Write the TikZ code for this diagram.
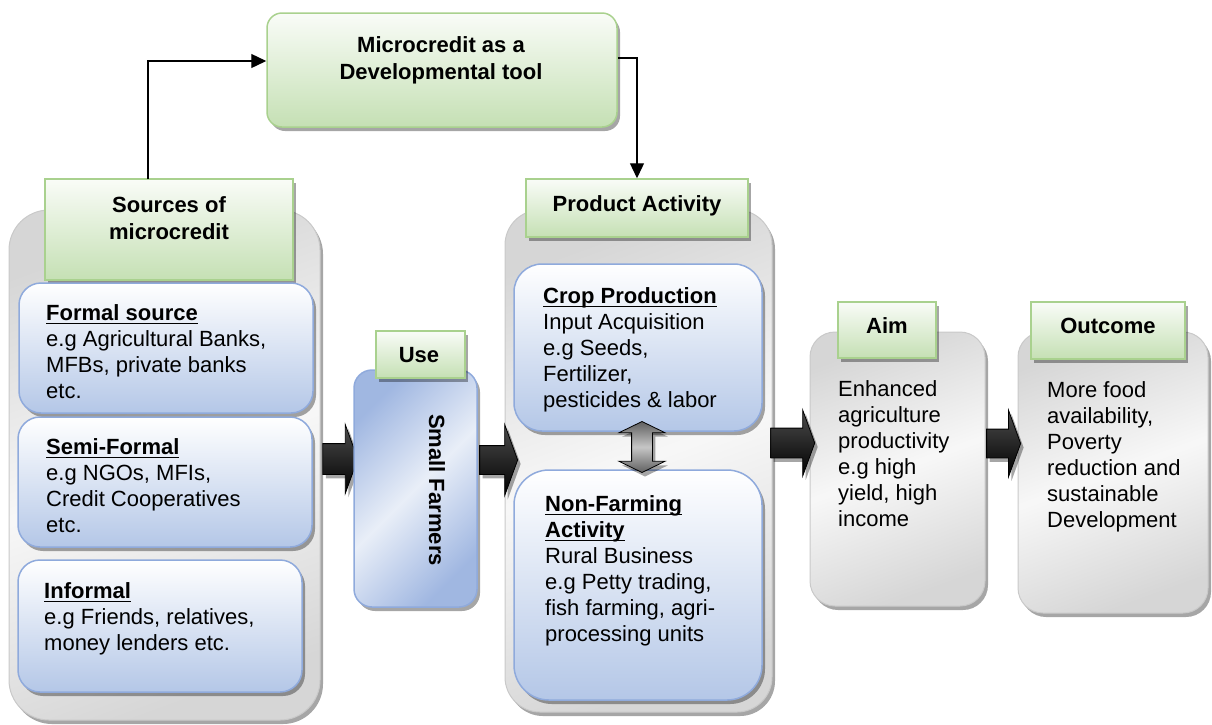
\documentclass[tikz,border=0pt]{standalone}
\usepackage{fontspec}
\setmainfont{Liberation Sans}
\usetikzlibrary{shapes.arrows,shadows,fit,calc,arrows.meta}

% bold heading with a rule drawn under it
\newsavebox\hdbox
\newcommand\ulbf[1]{\sbox\hdbox{\bfseries #1}\rlap{\rule[-4.2pt]{\wd\hdbox}{1.8pt}}\usebox\hdbox}

\definecolor{grnedge}{HTML}{A9D18E}
\definecolor{grnfill}{HTML}{C5E0B4}
\definecolor{bluedge}{HTML}{8FAADC}
\definecolor{blufill}{HTML}{B4C7E7}
\definecolor{grayedge}{HTML}{C9C9C9}

\tikzset{
  txt/.style={font=\fontsize{22}{26}\selectfont, inner sep=0pt, align=left, anchor=north west},
  hdtxt/.style={font=\bfseries\fontsize{22}{27}\selectfont, inner sep=0pt, align=center},
  softshadow/.style={drop shadow={shadow xshift=3pt, shadow yshift=-4pt, fill=black, opacity=0.35}},
  tray/.style={draw=grayedge, line width=1pt, rounded corners=#1, left color=gray!32,
    right color=gray!32, middle color=gray!6, shading angle=20, inner sep=0pt, softshadow},
  card/.style={draw=bluedge, line width=1.5pt, rounded corners=#1, top color=white,
    bottom color=blufill, inner sep=0pt, softshadow},
  tag/.style={draw=grnedge, line width=1.5pt, top color=grnfill!10, bottom color=grnfill,
    inner sep=0pt, softshadow},
  conn/.style={line width=1.3pt, -{Triangle[length=15pt,width=14pt]}},
  bigarrow/.style={single arrow, draw=black, line width=0.8pt, inner xsep=0pt,
    single arrow tip angle=140, top color=gray!60!black, bottom color=black,
    minimum height=#1, softshadow},
}

\begin{document}
\begin{tikzpicture}[x=1pt,y=-1pt]
\useasboundingbox (0,0) rectangle (1212,724);

% grey trays holding each stage
\node[tray=40, fit={(9,210)(320,720)}] (srctray) {};
\node[tray=35, fit={(505,210)(772,712)}] (acttray) {};
\node[tray=25, fit={(810,332)(985,606)}] (aimbox) {};
\node[tray=25, fit={(1018,332)(1208,613)}] (outbox) {};

% block arrows between the stages
\node[bigarrow=35pt, inner ysep=15pt, single arrow head extend=19pt] (a1) at (337.5,459) {};
\node[bigarrow=38pt, inner ysep=14pt, single arrow head extend=21pt] (a2) at (496,460) {};
\node[bigarrow=44pt, inner ysep=14.5pt, single arrow head extend=18pt] (a3) at (790,443) {};
\node[bigarrow=34pt, inner ysep=14pt, single arrow head extend=19pt] (a4) at (1001,443.5) {};

% top box
\node[tag, rounded corners=15, fit={(267,13)(617,127)}] (tool) {};
\node[hdtxt] (tooltxt) at (441,60) {Microcredit as a\\Developmental tool};

% green header tags
\node[tag, fit={(45,179)(293,280)}] (srchead) {};
\node[tag, fit={(526,179)(748,237)}] (acthead) {};
\node[tag, fit={(838,302)(936,358)}] (aimhead) {};
\node[tag, fit={(1031,302)(1185,359)}] (outhead) {};
\node[hdtxt] (srctxt) at (169,218) {Sources of\\microcredit};
\node[hdtxt] (acttxt) at (637,206) {Product Activity};
\node[hdtxt] (aimtxt) at (887,326) {Aim};
\node[hdtxt] (outtxt) at (1108,326) {Outcome};

% blue cards
\node[card=22, fit={(19,283)(313,413)}] (formal) {};
\node[card=22, fit={(18,417)(312,547)}] (semi) {};
\node[card=22, fit={(18,560)(302,692)}] (informal) {};
\node[card=28, fit={(514,264)(762,431)}] (crop) {};
\node[card=35, fit={(514,470)(762,700)}] (nonfarm) {};

\node[txt] (formaltxt) at (46,304) {\ulbf{Formal source}\\e.g Agricultural Banks,\\MFBs, private banks\\etc.};
\node[txt] (semitxt) at (46,438) {\ulbf{Semi-Formal}\\e.g NGOs, MFIs,\\Credit Cooperatives\\etc.};
\node[txt] (informaltxt) at (44,582) {\ulbf{Informal}\\e.g Friends, relatives,\\money lenders etc.};
\node[txt] (croptxt) at (543,287) {\ulbf{Crop Production}\\Input Acquisition\\e.g Seeds,\\Fertilizer,\\pesticides \& labor};
\node[txt] (nonfarmtxt) at (545,495) {\ulbf{Non-Farming}\\\ulbf{Activity}\\Rural Business\\e.g Petty trading,\\fish farming, agri-\\processing units};
\node[txt] (aimtxtbody) at (838,380) {Enhanced\\agriculture\\productivity\\e.g high\\yield, high\\income};
\node[txt] (outtxtbody) at (1047,381) {More food\\availability,\\Poverty\\reduction and\\sustainable\\Development};

% two-way arrow between the activity cards
\node[double arrow, draw=black, line width=0.8pt, inner xsep=0pt, inner ysep=10pt, rotate=90,
  minimum height=51pt, double arrow head extend=12.5pt,
  double arrow tip angle=128, top color=gray!75!black, bottom color=gray!75!black,
  middle color=gray!45, softshadow] (link) at (642,447) {};

% small farmers
\node[draw=bluedge, line width=1.5pt, rounded corners=18, inner sep=0pt,
  left color=bluedge!85, right color=bluedge!85, middle color=blufill!30,
  shading angle=45, softshadow, fit={(354,370)(477,607)}] (farmers) {};
\node[hdtxt, rotate=-90] (farmtxt) at (437,490) {Small Farmers};
\node[tag, fit={(376,331)(465,378)}] (usehead) {};
\node[hdtxt] (usetxt) at (419,355) {Use};

% feedback connectors through the top box
\coordinate (rise) at (148,179);
\draw[conn] (rise) |- ($(tool.west)+(0,-9)$);
\draw[conn] ($(tool.east)+(0,-12)$) -| (acthead.north);
\end{tikzpicture}
\end{document}
